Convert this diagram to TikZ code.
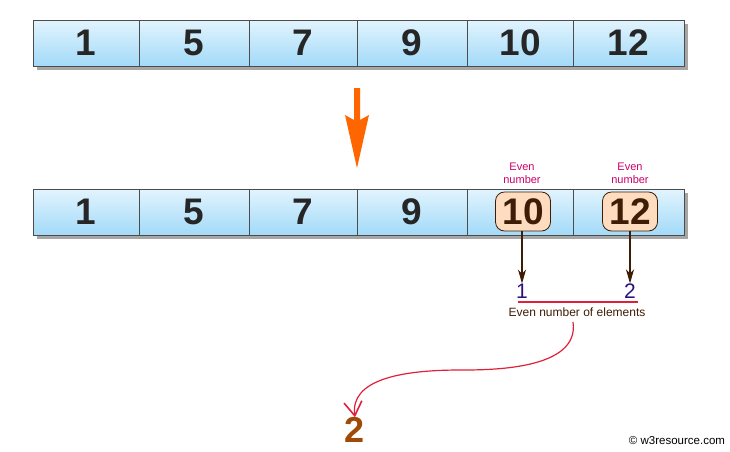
\documentclass[tikz,border=0pt]{standalone}
\usepackage{fontspec}
\setmainfont{Liberation Sans}
\usetikzlibrary{arrows.meta,calc}
\definecolor{cellTop}{HTML}{E2F4FE}
\definecolor{cellBot}{HTML}{A2DAF8}
\definecolor{peach}{HTML}{FDDCC0}
\definecolor{dbrown}{HTML}{3D1D05}
\definecolor{mag}{HTML}{CC0066}
\definecolor{indig}{HTML}{2A1080}
\definecolor{orng}{HTML}{FF6600}
\definecolor{rline}{HTML}{E0203A}
\definecolor{rust}{HTML}{A04A08}
\tikzset{
  cell/.style={draw=black!70, line width=0.8pt, top color=cellTop, bottom color=cellBot, minimum height=46pt, inner sep=0pt, font=\fontsize{37}{37}\selectfont\bfseries, text=black!85},
  evbox/.style={draw=dbrown, line width=0.8pt, fill=peach, rounded corners=9pt, minimum width=55pt, minimum height=39pt, inner sep=0pt, font=\fontsize{37}{37}\selectfont\bfseries, text=dbrown},
  evlab/.style={text=mag, font=\fontsize{11}{13}\selectfont, align=center},
  brarrow/.style={draw=dbrown, line width=1.2pt, -{Stealth[length=14pt,width=8pt,inset=4pt]}},
}
\begin{document}
\begin{tikzpicture}[x=1pt,y=-1pt]
\useasboundingbox (0,0) rectangle (730,451);
% shadows
\fill[black!35] (37,24) rectangle (688,70);
\fill[black!35] (37,193) rectangle (688,239);
\foreach \i/\xa/\xb/\v in {1/33/139/1, 2/139/249/5, 3/249/357/7, 4/357/467/9, 5/467/573/10, 6/573/684/12}{
  \node[cell, minimum width={\xb-\xa}] (a\i) at ({(\xa+\xb)/2},43) {\v};
}
\foreach \i/\xa/\xb/\v in {1/33/139/1, 2/139/249/5, 3/249/357/7, 4/357/467/9}{
  \node[cell, minimum width={\xb-\xa}] (b\i) at ({(\xa+\xb)/2},212) {\v};
}
\foreach \i/\xa/\xb in {5/467/573, 6/573/684}{
  \node[cell, minimum width={\xb-\xa}] (b\i) at ({(\xa+\xb)/2},212) {};
}
% orange arrow
\fill[orng] (354,88) -- (360,88) -- (360,120) -- (369,115) -- (357,168) -- (345,115) -- (354,120) -- cycle;
% even boxes
\node[evbox] (e10) at (523,211.5) {10};
\node[evbox] (e12) at (630,211.5) {12};
\node[evlab] (l10) at (522,173) {Even\\number};
\node[evlab] (l12) at (630,173) {Even\\number};
% lower numbers
\node[text=indig, font=\fontsize{21}{21}\selectfont, inner sep=0pt] (n1) at (522,291) {1};
\node[text=indig, font=\fontsize{21}{21}\selectfont, inner sep=0pt] (n2) at (630,291) {2};
\draw[brarrow] (e10.south -| n1) -- (n1.north);
\draw[brarrow] (e12.south -| n2) -- (n2.north);
\coordinate (rl) at (518,302);
\coordinate (rr) at (638,302);
\draw[rline, line width=1.2pt] (rl) -- (rr);
\node[text=dbrown, font=\fontsize{12}{13}\selectfont] (txt) at (577,312) {Even number of elements};
% result
\node[text=rust, font=\fontsize{36}{36}\selectfont\bfseries, inner sep=0pt] (res) at (355,430) {2};
\coordinate (cs) at (573,322);
\draw[rline, line width=1.2pt, -{Straight Barb[length=14pt,width=18pt,line width=1.6pt]}] (cs) .. controls (580,370) and (490,370) .. (460,370) .. controls (400,370) and (350,380) .. (res.north);
\node[font=\fontsize{11.5}{13}\selectfont, text=black] (cp) at (677,441) {\textcopyright{} w3resource.com};
\end{tikzpicture}
\end{document}
